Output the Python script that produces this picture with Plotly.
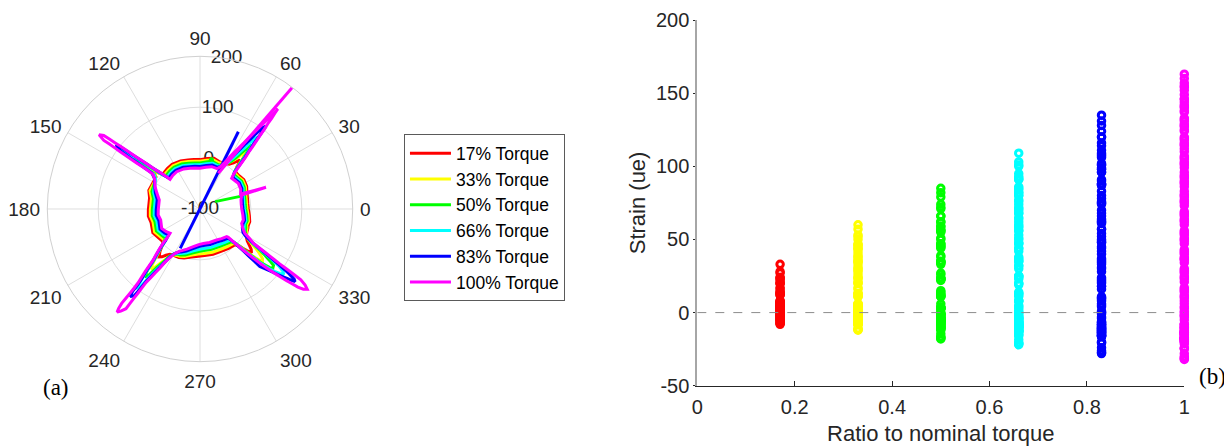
import plotly.graph_objects as go

FONT = "Liberation Sans, Arial, Helvetica, sans-serif"
SERIF = "Liberation Serif, Times New Roman, serif"
TEXT = "#262626"

series_names = ["17% Torque", "33% Torque", "50% Torque", "66% Torque", "83% Torque", "100% Torque"]
series_colors = ["#ff0000", "#ffff00", "#00ff00", "#00ffff", "#0000ff", "#ff00ff"]
torque_ratio = [0.17, 0.33, 0.50, 0.66, 0.83, 1.00]

angle_ticks = [0, 30, 60, 90, 120, 150, 180, 210, 240, 270, 300, 330]
angle_tick_labels = ["0", "30", "60", "90", "120", "150", "180", "210", "240", "270", "300", "330"]
radial_ticks = [-100, 0, 100, 200]
radial_tick_labels = ["-100", "0", "100", "200"]
radial_label_angle = 80
ratio_ticks = [0, 0.2, 0.4, 0.6, 0.8, 1.0]
ratio_tick_labels = ["0", "0.2", "0.4", "0.6", "0.8", "1"]
strain_ticks = [-50, 0, 50, 100, 150, 200]
strain_tick_labels = ["-50", "0", "50", "100", "150", "200"]

# ---- strain (ue) versus rotation angle (deg), one loop per torque level ----
red_theta = [0, 6, 12.4, 20, 26, 33.8, 40, 46,
             48.5, 49.4, 50.5,
             52.0, 54.0, 57.0, 62, 68,
             74.5, 82, 90, 97, 103.8, 112, 122, 129, 137,
             139, 140.2, 141.2,
             142.5, 142.4, 144, 148,
             160, 167.5, 181, 188, 195.6, 206.8, 214, 221.5,
             224.5, 226.5, 229.5,
             231.5, 233.6, 236.5, 241, 246.5,
             252, 260, 268, 275.5, 286, 298, 306, 314,
             316.8, 317.5, 318.3, 319.5,
             321.8, 323.8, 326, 329, 334, 338,
             341, 345.7, 352, 360]
red_strain = [-5, -5.5, -4.5, -2, 2, 3.6, 1, 0.5,
              8, 16, 24,
              20, 12, 5, 1.5, 0.5,
              3.2, 0, -3, -2, -0.7, 2, 3.4, 2, 0,
              8, 17, 27,
              22, 13, 7, 6,
              7, 1.5, 1.5, 2.5, -0.3, 3.8, -0.5, -3,
              5, 14, 24,
              20, 13, 7, 4.5, 4,
              1, -4, -7, -8, -7.5, -7, -4.5, -2,
              6, 14, 23, 33,
              28, 20, 12, 6, 2.5, 1.5,
              0, 0.8, -2, -5]

yellow_theta = [0, 6, 12.4, 20, 26, 33.8, 40, 45.5,
                48.0, 48.8, 49.5, 50.1, 50.7,
                52.0, 53.2, 54.7, 56.8, 60, 64, 68,
                74.5, 82, 90, 97, 103.8, 112, 122, 129, 136.5,
                138.5, 139.6, 140.4, 141.0, 141.6,
                142.9, 142.9, 142.7, 142.6, 145.5, 149,
                160, 167.5, 181, 188, 195.6, 206.8, 214, 221,
                223.8, 225.5, 227.1, 228.4, 229.5, 230.6,
                232.0, 233.0, 234.2, 235.6, 237.2, 239.8, 243.5, 246.5,
                252, 260, 268, 275.5, 286, 298, 306, 314,
                316.5, 317.0, 317.5, 318.0, 318.7, 319.3, 320,
                321.5, 322.6, 323.6, 324.9, 326.0, 327.6, 330.5, 334.5, 338,
                341, 345.7, 352, 360]
yellow_strain = [-7.6, -8.1, -7.1, -4.6, -0.6, 1, -1.6, -2,
                 6, 16, 26, 35, 44,
                 39, 30, 20, 11, 4, 0, -2,
                 -0.2, -3.4, -6.4, -5.4, -4.1, -1.4, 0, -1.4, -3,
                 6, 17, 28, 37, 46,
                 41, 31, 21, 11, 6, 4,
                 4.5, -2.4, -2.4, -1.4, -4.2, -0.1, -4.4, -7,
                 2, 13, 24, 35, 44, 52,
                 47, 38, 29, 20, 11, 4, 2, 1.5,
                 -2, -8, -11.5, -12, -11.5, -11, -8.5, -6,
                 2, 13, 24, 35, 46, 53, 60,
                 57, 50, 43, 33, 23, 13, 5, 1, -0.5,
                 -3, -1.8, -4.6, -7.6]

green_theta = [0, 6, 12.4, 20, 26, 33.8, 40, 45,
               47.6, 48.4, 49.2, 49.9, 50.4, 50.9,
               52.0, 52.8, 53.8, 55.0, 56.8, 59.5, 63, 67.5,
               74.5, 77, 79, 86, 90, 97, 103.8, 112, 122, 129, 136,
               138.0, 139.0, 139.9, 140.5, 141.0, 141.8,
               143.2, 143.3, 143.1, 142.9, 142.8, 145.5, 150,
               160, 167.5, 181, 188, 195.6, 206.8, 214, 220.5,
               223.4, 225.0, 226.6, 227.9, 228.7, 229.4, 230.9,
               232.2, 232.8, 233.5, 234.6, 235.9, 237.2, 239.5, 243, 246.5,
               252, 260, 268, 275.5, 286, 298, 306, 314,
               316.2, 316.7, 317.2, 317.6, 318.1, 318.6, 319.4, 320.0, 320.5,
               322.5, 323.2, 323.8, 324.6, 325.3, 326.0, 326.8, 328.2, 330.5, 334, 338,
               341, 345.7, 352, 360]
green_strain = [-10.2, -10.7, -9.7, -7.2, -3.2, -1.6, -4.2, -5,
                3, 14, 26, 38, 50, 62,
                56, 45, 34, 23, 12, 3, -3, -6,
                -4, 3, -5, -8.5, -9.8, -8.8, -7.5, -4.8, -3.4, -4.8, -6.5,
                3, 15, 27, 39, 51, 62,
                57, 46, 35, 24, 13, 6, 3,
                0.5, -6.3, -6.3, -5.3, -8.1, -4, -8.3, -11,
                -1, 11, 23, 35, 47, 59, 72,
                66, 55, 44, 33, 22, 11, 3, -1, -1.5,
                -5, -12, -16.5, -18, -17.5, -17, -14.5, -11,
                -1, 11, 23, 35, 47, 59, 71, 79, 85,
                82, 74, 66, 56, 45, 34, 23, 12, 4, -1, -3,
                -5.6, -4.4, -7.2, -10.2]

cyan_theta = [0, 6, 12.4, 20, 26, 33.8, 40, 44.5,
              47.2, 48.0, 48.7, 49.4, 50.0, 50.5, 50.8, 51.0,
              52.2, 52.9, 53.6, 54.5, 55.6, 57.0, 58.8, 61.5, 64.5, 67.5,
              74.5, 82, 90, 97, 103.8, 112, 122, 129, 135.8,
              137.5, 138.6, 139.5, 140.2, 140.8, 141.3, 141.7, 141.9, 142.2,
              143.5, 143.6, 143.5, 143.4, 143.2, 143.0, 143.0, 146, 151,
              160, 167.5, 181, 188, 195.6, 206.8, 214, 220,
              223.0, 224.6, 226.2, 227.6, 228.4, 229.1, 229.8, 230.4, 230.8, 231.2,
              232.5, 232.8, 233.0, 233.5, 234.3, 235.3, 236.3, 237.4, 239.5, 243, 246.5,
              252, 260, 268, 275.5, 286, 298, 306, 314,
              315.9, 316.4, 316.8, 317.2, 317.7, 318.1, 318.6, 319.3, 320.1, 321.0, 322.0,
              323.2, 324.0, 324.5, 325.0, 325.4, 325.8, 326.4, 327.0, 328.2, 330, 333, 337,
              341, 345.7, 352, 360]
cyan_strain = [-12.8, -13.3, -12.3, -9.8, -5.8, -4.2, -6.8, -8,
               0, 11, 23, 35, 47, 59, 71, 82,
               76, 65, 53, 42, 30, 19, 8, -1, -6, -8.5,
               -7, -10.2, -13.2, -12.2, -10.9, -8.2, -6.8, -8.2, -10,
               0, 12, 25, 38, 51, 64, 77, 85, 92,
               86, 74, 62, 50, 37, 25, 13, 5, 1.5,
               -3, -10, -10, -9, -12, -8, -12, -15,
               -4, 8, 20, 32, 44, 56, 68, 80, 91, 100,
               95, 84, 72, 60, 48, 36, 25, 14, 4, -2, -4.5,
               -9, -16, -20.5, -22, -21.5, -21, -18.5, -15,
               -4, 8, 20, 32, 44, 56, 68, 80, 91, 101, 109,
               103, 93, 82, 70, 58, 47, 35, 24, 13, 3, -3, -6,
               -8.2, -7, -9.8, -12.8]

blue_theta = [0, 6, 12.4, 20, 26, 33.8, 40, 44,
              46.8, 47.6, 48.3, 49.0, 49.7, 50.3, 50.7, 51.0, 51.2, 51.4,
              52.4, 53.0, 53.6, 54.2, 55.0, 55.9, 57.0, 58.4, 59.8, 61.8, 64.3, 67,
              74.5, 82, 90, 97, 103.8, 112, 122, 129, 135.5,
              137.0, 138.1, 139.1, 139.8, 140.4, 141.0, 141.4, 141.7, 142.0, 142.6,
              143.6, 143.8, 143.8, 143.7, 143.6, 143.5, 143.3, 143.2, 146, 152,
              160, 167.5, 181, 188, 195.6, 206.8, 214, 219.5,
              222.6, 224.0, 225.6, 227.2, 228.2, 228.9, 229.6, 230.3, 230.6, 230.7, 231.4,
              232.8, 233.1, 233.2, 233.4, 234.0, 234.7, 235.6, 236.5, 237.9, 240.5, 244, 246.5,
              252, 260, 268, 275.5, 286, 298, 306, 314,
              315.5, 315.8, 316.0, 316.0, 316.1, 316.1, 318.8, 319.8, 320.8, 321.5, 322.1, 322.6,
              323.3, 323.6, 324.0, 324.3, 324.6, 324.9, 325.2, 325.6, 326.0, 326.5, 327.0, 328.0, 329.3, 331.5, 336,
              341, 345.7, 352, 360]
blue_strain = [-15.4, -16, -15, -12.5, -8.5, -7, -9.5, -10.8,
               -1, 9, 22, 35, 48, 61, 74, 87, 98, 108,
               102, 91, 80, 68, 57, 45, 33, 21, 10, 0, -7, -11,
               -10.4, -13.6, -16.6, -15.6, -14.3, -11.6, -10.2, -11.6, -13.5,
               -3, 10, 23, 36, 49, 62, 75, 88, 98, 107,
               101, 90, 78, 66, 54, 42, 30, 18, 8, 1,
               -6.5, -14, -14, -13, -16, -12, -16, -20,
               -8, 5, 18, 31, 44, 57, 70, 83, 96, 109, 120,
               114, 101, 88, 75, 62, 50, 37, 24, 11, 0, -6, -8,
               -13, -20.8, -26, -28, -27.5, -27, -24, -20.5,
               -8, 6, 20, 34, 48, 63, 87, 99, 111, 120, 128, 135,
               131, 124, 116, 106, 96, 88, 76, 64, 52, 40, 28, 16, 4, -4, -9,
               -10.8, -9.6, -12.4, -15.4]

magenta_theta = [0, 6, 12.4, 18.6, 18.2, 20.2, 26, 33.8, 40, 44,
                 46.3, 47.3, 48.0, 48.7, 49.5, 49.9, 50.4, 50.8, 51.1, 51.5, 51.7, 52.0, 52.1,
                 52.5, 52.9, 53.4, 54.1, 54.7, 55.6, 56.4, 57.5, 58.9, 60.3, 61.9, 64.3, 67,
                 74.5, 82, 90, 97, 103.8, 112, 122, 129, 135.3,
                 136.4, 137.6, 138.9, 139.5, 140.1, 140.7, 141.1, 141.4, 141.8, 142.1, 142.35, 142.6, 143.7,
                 144.5, 144.4, 144.35, 144.3, 144.2, 144.1, 144.0, 143.8, 143.6, 143.5, 147, 153.6,
                 160, 167.5, 181, 188, 195.6, 206.8, 214, 219,
                 221.4, 222.75, 224.4, 226.0, 227.55, 228.15, 228.75, 229.4, 230.0, 230.2, 230.25, 230.3, 230.3, 230.7, 231.2,
                 232.2, 233.4, 233.45, 233.5, 233.6, 233.65, 233.7, 234.3, 235.0, 235.8, 236.5, 237.95, 240.4, 244.2, 246.3,
                 252, 260, 268, 275.5, 286, 298, 306, 314,
                 315, 315.4, 315.9, 316.35, 316.8, 317.3, 317.75, 318.25, 318.8, 319.3, 319.85, 320.35, 320.9, 321.4, 322.2, 323.2,
                 324.1, 324.95, 325.05, 325.2, 325.3, 325.45, 325.7, 326.05, 326.4, 326.8, 327.2, 329.5, 331.6, 336,
                 341, 345.7, 352, 360]
magenta_strain = [-18, -18.5, -17.5, -13.6, 36.5, -15, -11, -9.4, -12, -13.4,
                  -3, 10, 23, 36, 49, 62, 75, 88, 101, 114, 127, 140, 149,
                  137, 124, 110, 96, 83, 69, 56, 43, 30, 17, 4, -8, -14,
                  -13.8, -17, -20, -19, -17.7, -15, -13.6, -15, -17.1,
                  -5, 8, 21, 34, 47, 60, 73, 86, 99, 112, 125, 138, 146,
                  132, 119, 106, 93, 80, 67, 54, 41, 28, 15, 6, -1.4,
                  -10, -18, -18, -17, -19.8, -15.7, -20, -24.2,
                  -12.8, -2, 11, 24, 37, 50, 63, 76, 89, 102, 115, 128, 141, 152, 160,
                  154, 144, 131, 118, 105, 92, 79, 66, 53, 40, 27, 14, 1, -8, -10.6,
                  -17, -24.8, -30, -32, -31.5, -31, -28, -24.5,
                  -21.4, -10, 3, 16, 29, 42, 55, 68, 81, 94, 107, 120, 133, 146, 157, 163,
                  155, 142, 129, 116, 103, 90, 77, 64, 51, 38, 25, 12, 0, -8,
                  -13.4, -12.2, -15, -18]

# stray segments visible only in the polar view
green_stray_theta = [26, 17]
green_stray_strain = [-67, -10]
blue_stray_theta = [63.6, 243.4]
blue_stray_strain = [69.5, -13.3]
magenta_stray_theta = [62.9, 52.8]
magenta_stray_strain = [-21, 199]

# dashed zero reference in panel (b)
zero_ratio = [0, 1]
zero_strain = [0, 0]

all_theta = [red_theta, yellow_theta, green_theta, cyan_theta, blue_theta, magenta_theta]
all_strain = [red_strain, yellow_strain, green_strain, cyan_strain, blue_strain, magenta_strain]
strays = {2: (green_stray_theta, green_stray_strain),
          4: (blue_stray_theta, blue_stray_strain),
          5: (magenta_stray_theta, magenta_stray_strain)}
for th, st in zip(all_theta, all_strain):
    assert len(th) == len(st), (len(th), len(st))

fig = go.Figure()

# radial tick labels (drawn first, lines go over them)
fig.add_trace(go.Scatterpolar(
    theta=[radial_label_angle] * len(radial_ticks), r=radial_ticks,
    mode="text", text=radial_tick_labels,
    textfont=dict(family=FONT, size=19, color=TEXT),
    textposition="middle center", showlegend=False, cliponaxis=False, hoverinfo="skip"))

LW = 3
for i in range(6):
    fig.add_trace(go.Scatterpolar(
        theta=all_theta[i], r=all_strain[i], mode="lines",
        line=dict(color=series_colors[i], width=LW),
        name=series_names[i], showlegend=True))
    if i in strays:
        fig.add_trace(go.Scatterpolar(
            theta=strays[i][0], r=strays[i][1], mode="lines",
            line=dict(color=series_colors[i], width=LW),
            showlegend=False, hoverinfo="skip"))

for i in range(6):
    fig.add_trace(go.Scatter(
        x=[torque_ratio[i]] * len(all_strain[i]), y=all_strain[i], mode="markers",
        marker=dict(symbol="circle-open", size=6.5, color=series_colors[i],
                    line=dict(width=3, color=series_colors[i])),
        showlegend=False, cliponaxis=False, xaxis="x", yaxis="y"))

fig.add_trace(go.Scatter(
    x=zero_ratio, y=zero_strain, mode="lines",
    line=dict(color="#8c8c8c", width=1, dash="dash"),
    showlegend=False, hoverinfo="skip"))

fig.update_layout(
    width=1232, height=448,
    margin=dict(l=0, r=0, t=0, b=0, autoexpand=False),
    paper_bgcolor="white", plot_bgcolor="white",
    font=dict(family=FONT, color=TEXT),
    showlegend=True,
    hovermode=False,
    polar=dict(
        domain=dict(x=[0.0319, 0.2798], y=[0.2105, 0.8922]),
        bgcolor="white",
        radialaxis=dict(range=[-100, 200], tickmode="array", tickvals=radial_ticks,
                        showticklabels=False, ticks="", showline=False,
                        gridcolor="#dedede", gridwidth=1, angle=radial_label_angle),
        angularaxis=dict(rotation=0, direction="counterclockwise",
                         tickmode="array", tickvals=angle_ticks, ticktext=angle_tick_labels,
                         tickfont=dict(family=FONT, size=19, color=TEXT),
                         ticks="outside", ticklen=3, tickcolor="rgba(0,0,0,0)",
                         showline=True, linecolor="#d0d0d0", linewidth=1,
                         gridcolor="#dedede", gridwidth=1),
    ),
    xaxis=dict(domain=[0.5595, 0.9548], range=[0, 1], automargin=False,
               tickmode="array", tickvals=ratio_ticks, ticktext=ratio_tick_labels,
               showgrid=False, zeroline=False, showline=True, linecolor=TEXT, linewidth=1,
               ticks="inside", ticklen=5, tickwidth=1, tickcolor=TEXT,
               tickfont=dict(family=FONT, size=20, color=TEXT),
               ticklabelstandoff=3, ticklabeloverflow="allow",
               title=dict(text="Ratio to nominal torque", font=dict(family=FONT, size=22, color=TEXT),
                          standoff=8)),
    yaxis=dict(domain=[0.1569, 0.973], range=[-50, 200], automargin=False,
               tickmode="array", tickvals=strain_ticks, ticktext=strain_tick_labels,
               showgrid=False, zeroline=False, showline=True, linecolor="#a6a6a6", linewidth=2,
               ticks="outside", ticklen=2, tickwidth=1, tickcolor=TEXT,
               tickfont=dict(family=FONT, size=20, color=TEXT),
               ticklabeloverflow="allow",
               title=dict(text="Strain (ue)", font=dict(family=FONT, size=22, color=TEXT),
                          standoff=4)),
    legend=dict(x=0.3214, y=0.7181, xanchor="left", yanchor="top",
                bgcolor="white", bordercolor="#5a5a5a", borderwidth=1,
                font=dict(family=FONT, size=17.5, color="black"),
                tracegroupgap=0, itemwidth=41),
    annotations=[
        dict(text="(a)", x=0.0388, y=0.1529, xref="paper", yref="paper", showarrow=False,
             xanchor="center", yanchor="middle", font=dict(family=SERIF, size=23, color="black")),
        dict(text="(b)", x=0.9778, y=0.177, xref="paper", yref="paper", showarrow=False,
             xanchor="center", yanchor="middle", font=dict(family=SERIF, size=23, color="black")),
    ],
)

fig.write_html("out.html")
